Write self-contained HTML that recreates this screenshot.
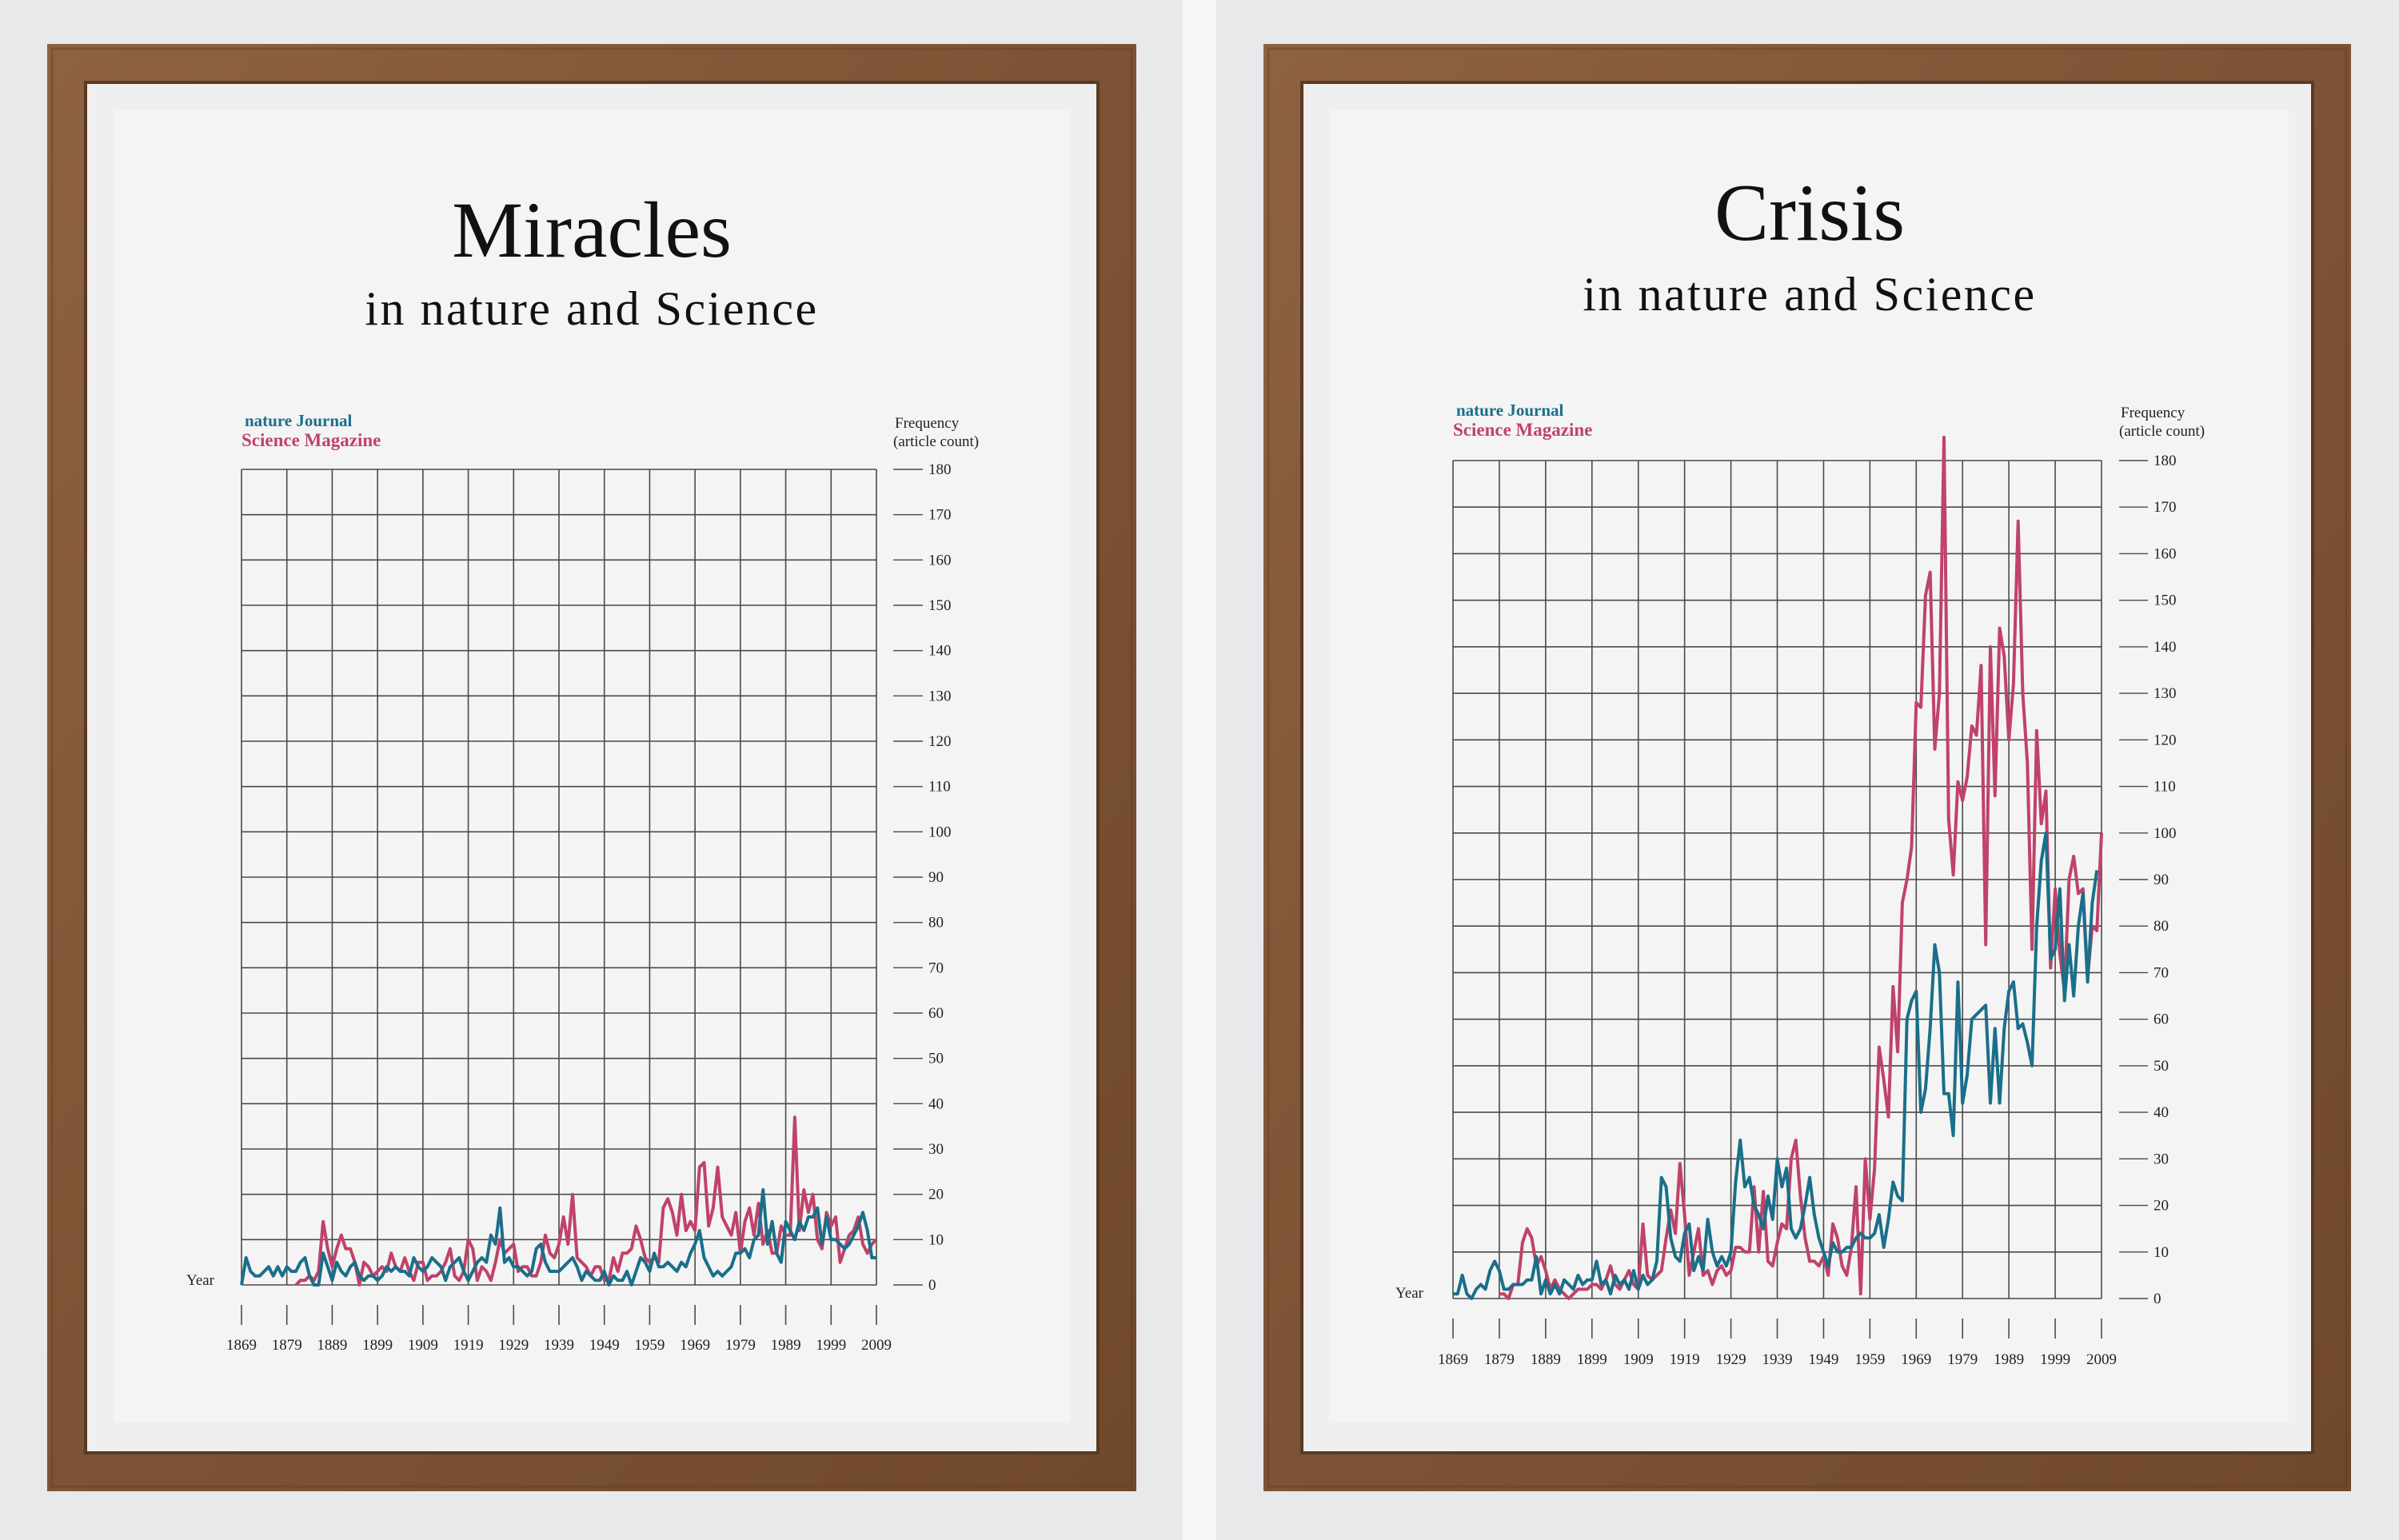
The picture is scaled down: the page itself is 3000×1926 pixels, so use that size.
<!DOCTYPE html>
<html><head><meta charset="utf-8"><style>
html,body{margin:0;padding:0;background:#e9eaec;}
svg{display:block;font-family:"Liberation Serif",serif;}
</style></head><body>
<svg id="s" width="3000" height="1926" viewBox="0 0 3000 1926" xmlns="http://www.w3.org/2000/svg">
<defs>
<linearGradient id="wood" x1="0" y1="0" x2="1" y2="1">
<stop offset="0" stop-color="#8e6241"/><stop offset="0.5" stop-color="#7d5335"/><stop offset="1" stop-color="#70482b"/>
</linearGradient>
</defs>
<rect x="0" y="0" width="3000" height="1926" fill="#e8e9eb"/>
<rect x="1479" y="0" width="42" height="1926" fill="#f7f7f8"/>
<g id="g"></g>
</svg>
<script>
var NS="http://www.w3.org/2000/svg",G=document.getElementById('g');
function el(t,a,txt){var e=document.createElementNS(NS,t);for(var k in a)e.setAttribute(k,a[k]);if(txt!==undefined)e.textContent=txt;G.appendChild(e);return e;}
function frame(x0,y0,x1,y1,px0,py0,px1,py1){
 el('rect',{x:x0,y:y0,width:x1-x0,height:y1-y0,fill:'url(#wood)'});
 el('rect',{x:x0+6,y:y0+6,width:x1-x0-12,height:y1-y0-12,fill:'none',stroke:'#5e3b22','stroke-width':3,opacity:0.4});
 el('rect',{x:x0+48,y:y0+48,width:x1-x0-96,height:y1-y0-96,fill:'#efefef',stroke:'#5a3a22','stroke-width':4});
 el('rect',{x:px0,y:py0,width:px1-px0,height:py1-py0,fill:'#f4f4f4'});
}
function panel(c){
 var X0=c.x0,X1=c.x1,YT=c.yt,YB=c.yb,i;
 var gx=function(y){return X0+(y-1869)/140*(X1-X0);},gy=function(v){return YB-v/180*(YB-YT);};
 for(i=0;i<=14;i++){var x=X0+i*(X1-X0)/14;el('line',{x1:x,y1:YT,x2:x,y2:YB,stroke:'#4a4a4a','stroke-width':1.6});
  el('line',{x1:x,y1:c.tk0,x2:x,y2:c.tk1,stroke:'#4a4a4a','stroke-width':1.6});
  el('text',{x:x,y:c.yl,'font-size':19,'text-anchor':'middle',fill:'#222'},String(1869+i*10));}
 for(i=0;i<=18;i++){var y=YT+i*(YB-YT)/18;el('line',{x1:X0,y1:y,x2:X1,y2:y,stroke:'#4a4a4a','stroke-width':1.6});
  el('line',{x1:c.d0,y1:y,x2:c.d1,y2:y,stroke:'#4a4a4a','stroke-width':1.4});
  el('text',{x:c.d1+7,y:y+6,'font-size':19,fill:'#222'},String(180-i*10));}
 el('text',{x:c.lx+4,y:c.ly,'font-size':21,fill:'#1a6f8a','font-weight':600},'nature Journal');
 el('text',{x:c.lx,y:c.ly+25,'font-size':23,fill:'#c0426a','font-weight':600},'Science Magazine');
 el('text',{x:c.d0+2,y:c.ly+2,'font-size':19,fill:'#222'},'Frequency');
 el('text',{x:c.d0,y:c.ly+25,'font-size':19,fill:'#222'},'(article count)');
 el('text',{x:c.yx,y:c.yy,'font-size':19,fill:'#222'},'Year');
 el('text',{x:c.tc,y:c.t1y,'font-size':c.t1s,'text-anchor':'middle',fill:'#111'},c.t1);
 el('text',{x:c.tc,y:c.t2y,'font-size':60,'letter-spacing':2.5,'text-anchor':'middle',fill:'#111'},'in nature and Science');
 [[c.pink,c.ps,'#c0426a'],[c.blue,c.bs,'#1a6f8a']].forEach(function(d){
  var pts=d[0].map(function(v,j){return gx(d[1]+j).toFixed(1)+','+gy(v).toFixed(1);}).join(' ');
  el('polyline',{points:pts,fill:'none',stroke:d[2],'stroke-width':4,'stroke-linejoin':'round'});});
}
frame(59,55,1421,1865,143,138,1339,1779);
frame(1580,55,2940,1865,1662,138,2862,1779);
panel({x0:302,x1:1096,yt:587,yb:1607,tk0:1632,tk1:1657,yl:1688,d0:1117,d1:1154,lx:302,ly:533,yx:233,yy:1607,tc:740,t1:'Miracles',t1y:321,t1s:100,t2y:406,
 ps:1881,pink:[0,1,1,2,1,3,14,8,4,8,11,8,8,5,0,5,4,2,3,4,3,7,4,3,6,3,1,5,5,1,2,2,3,5,8,2,1,3,10,8,1,4,3,1,5,10,7,8,9,3,4,4,2,2,5,11,7,6,9,15,9,20,6,5,4,2,4,4,1,1,6,3,7,7,8,13,10,6,5,6,5,17,19,16,11,20,12,14,12,26,27,13,17,26,15,13,11,16,7,14,17,11,18,9,12,7,7,13,11,11,37,12,21,16,20,10,8,16,13,15,5,8,11,12,15,9,7,9,10],
 bs:1869,blue:[0,6,3,2,2,3,4,2,4,2,4,3,3,5,6,2,0,0,7,4,1,5,3,2,4,5,2,1,2,2,1,2,4,3,4,3,3,2,6,4,3,4,6,5,4,1,4,5,6,3,1,3,5,6,5,11,9,17,5,6,4,4,3,2,3,8,9,5,3,3,3,4,5,6,4,1,3,2,1,1,3,0,2,1,1,3,0,3,6,5,3,7,4,4,5,4,3,5,4,7,9,12,6,4,2,3,2,3,4,7,7,8,6,10,11,21,9,14,7,5,14,12,10,14,12,15,15,17,9,15,10,10,9,8,9,11,13,16,12,6,6]});
panel({x0:1817,x1:2628,yt:576,yb:1624,tk0:1649,tk1:1674,yl:1706,d0:2650,d1:2686,lx:1817,ly:520,yx:1745,yy:1623,tc:2263,t1:'Crisis',t1y:300,t1s:102,t2y:388,
 ps:1879,pink:[1,1,0,3,3,12,15,13,7,9,6,2,4,2,1,0,1,2,2,2,3,3,2,4,7,3,2,4,6,3,2,16,5,4,5,6,13,19,14,29,18,5,10,15,5,6,3,6,7,5,6,11,11,10,10,24,10,23,8,7,12,16,15,30,34,22,13,8,8,7,9,5,16,13,7,5,11,24,1,30,17,28,54,47,39,67,53,85,90,97,128,127,151,156,118,130,185,103,91,111,107,112,123,121,136,76,140,108,144,138,120,132,167,130,115,75,122,102,109,71,88,74,66,90,95,87,88,69,80,79,100],
 bs:1869,blue:[1,1,5,1,0,2,3,2,6,8,6,2,2,3,3,3,4,4,9,1,4,1,3,1,4,3,2,5,3,4,4,8,3,4,1,5,3,4,2,6,2,5,3,4,8,26,24,13,9,8,14,16,6,9,6,17,10,7,9,7,10,25,34,24,26,20,18,15,22,17,30,24,28,15,13,15,20,26,18,13,10,7,12,10,10,11,11,13,14,13,13,14,18,11,17,25,22,21,60,64,66,40,45,58,76,70,44,44,35,68,42,48,60,61,62,63,42,58,42,58,66,68,58,59,55,50,80,94,100,73,75,88,64,76,65,80,87,68,85,92]});
</script>
</body></html>
